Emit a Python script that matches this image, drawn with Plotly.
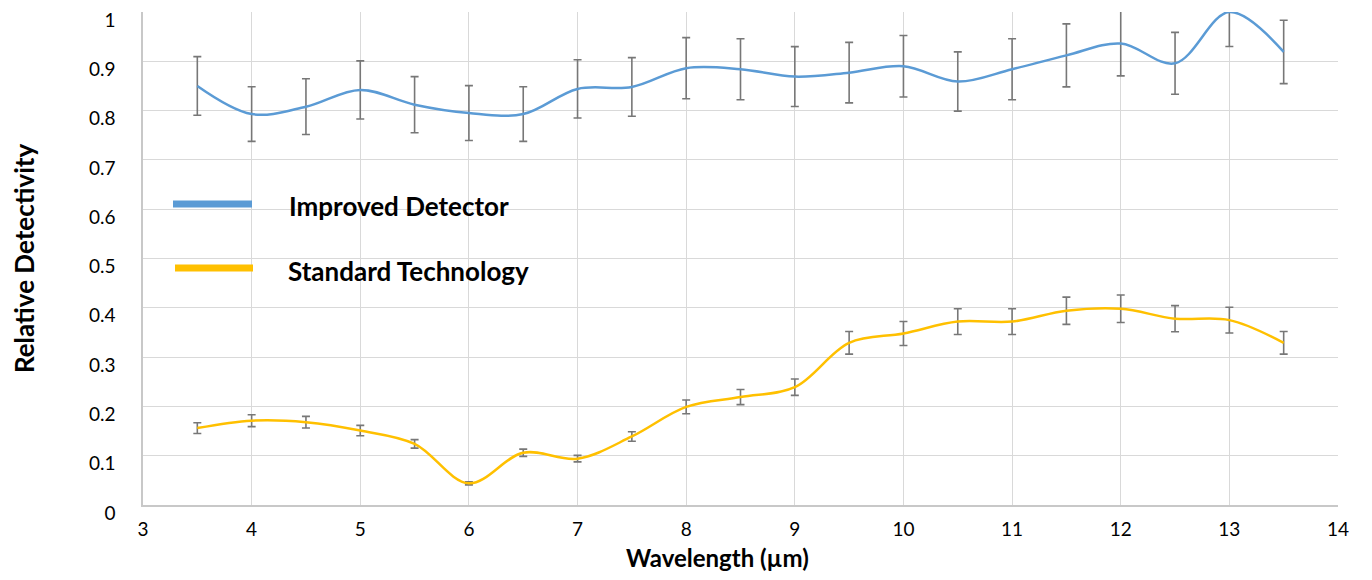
import plotly.graph_objects as go

# ---- data ----
wavelength = [3.5, 4, 4.5, 5, 5.5, 6, 6.5, 7, 7.5, 8, 8.5, 9, 9.5, 10, 10.5, 11, 11.5, 12, 12.5, 13, 13.5]
improved = [0.850, 0.793, 0.808, 0.842, 0.812, 0.795, 0.793, 0.844, 0.848, 0.886, 0.884,
            0.869, 0.877, 0.890, 0.859, 0.884, 0.912, 0.936, 0.896, 1.000, 0.919]
standard = [0.156, 0.171, 0.168, 0.151, 0.124, 0.044, 0.106, 0.094, 0.139, 0.199, 0.219,
            0.239, 0.329, 0.348, 0.372, 0.372, 0.394, 0.398, 0.378, 0.375, 0.329]
error_percent = 7
series_names = ["Improved Detector", "Standard Technology"]
y_ticks = [0, 0.1, 0.2, 0.3, 0.4, 0.5, 0.6, 0.7, 0.8, 0.9, 1]
y_ticktext = ["0", "0.1", "0.2", "0.3", "0.4", "0.5", "0.6", "0.7", "0.8", "0.9", "1"]
x_ticks = list(range(3, 15))

BLUE = "#5B9BD5"
GOLD = "#FFC000"
FONT = "Lato"

# page body has an 8px margin; work in reference-page pixels and subtract it
O = 8
W, H = 1372 - 2 * O, 580 - 2 * O
L, R, T, B = 143 - O, 1338 - O, 12 - O, 505 - O


def px(x):
    return (x - O - L) / (R - L)


def py(y):
    return (B - (y - O)) / (B - T)


fig = go.Figure()
err_style = dict(type="percent", value=error_percent, color="#777777", thickness=1.6, width=4)
fig.add_trace(go.Scatter(x=wavelength, y=improved, mode="lines", name=series_names[0],
                         line=dict(color=BLUE, width=2.5, shape="spline", smoothing=1),
                         error_y=err_style, showlegend=False))
fig.add_trace(go.Scatter(x=wavelength, y=standard, mode="lines", name=series_names[1],
                         line=dict(color=GOLD, width=2.5, shape="spline", smoothing=1),
                         error_y=err_style, showlegend=False))

# legend (as in the reference: long thick sample lines on white boxes)
shapes = []
for (x0, y0, x1, y1) in [(144, 164, 420, 302), (144, 177, 605, 234), (144, 245, 653, 301)]:
    shapes.append(dict(type="rect", xref="paper", yref="paper", layer="between",
                       x0=px(x0), x1=px(x1), y0=py(y1), y1=py(y0),
                       fillcolor="white", line=dict(width=0)))
shapes.append(dict(type="line", xref="paper", yref="paper", layer="above",
                   x0=px(173), x1=px(252), y0=py(204), y1=py(204),
                   line=dict(color=BLUE, width=7)))
shapes.append(dict(type="line", xref="paper", yref="paper", layer="above",
                   x0=px(175), x1=px(253), y0=py(268), y1=py(268),
                   line=dict(color=GOLD, width=7)))
annotations = [
    dict(text="<b>" + series_names[0] + "</b>", xref="paper", yref="paper",
         x=px(287), y=py(206), xanchor="left", yanchor="middle", showarrow=False,
         font=dict(family=FONT, size=26, color="#000")),
    dict(text="<b>" + series_names[1] + "</b>", xref="paper", yref="paper",
         x=px(286), y=py(271), xanchor="left", yanchor="middle", showarrow=False,
         font=dict(family=FONT, size=26, color="#000")),
    dict(text="<b>Wavelength (µm)</b>", xref="paper", yref="paper",
         x=px(717), y=py(557), xanchor="center", yanchor="middle", showarrow=False,
         font=dict(family=FONT, size=24, color="#000")),
]

fig.update_layout(
    width=W, height=H,
    margin=dict(l=L, r=W - R, t=T, b=H - B, autoexpand=False),
    plot_bgcolor="white", paper_bgcolor="white",
    font=dict(family=FONT, size=19, color="#000"),
    shapes=shapes, annotations=annotations,
    showlegend=False,
)
fig.update_xaxes(range=[3, 14], tickvals=x_ticks, showgrid=True, gridcolor="#d9d9d9", gridwidth=1,
                 showline=True, linecolor="#c8c8c8", linewidth=1.5, zeroline=False,
                 ticks="", ticklabelstandoff=6, tickfont=dict(size=19),
                 ticklabeloverflow="allow")
fig.update_yaxes(range=[0, 1], tickvals=y_ticks, ticktext=y_ticktext, showgrid=True,
                 gridcolor="#d9d9d9", gridwidth=1, showline=True, linecolor="#c8c8c8", linewidth=1.5,
                 zeroline=False, ticks="", ticklabelstandoff=22, ticklabelshift=8,
                 tickfont=dict(size=19), ticklabeloverflow="allow",
                 title=dict(text="<b>Relative Detectivity</b>", font=dict(family=FONT, size=26), standoff=55))

fig.write_html("out.html")
